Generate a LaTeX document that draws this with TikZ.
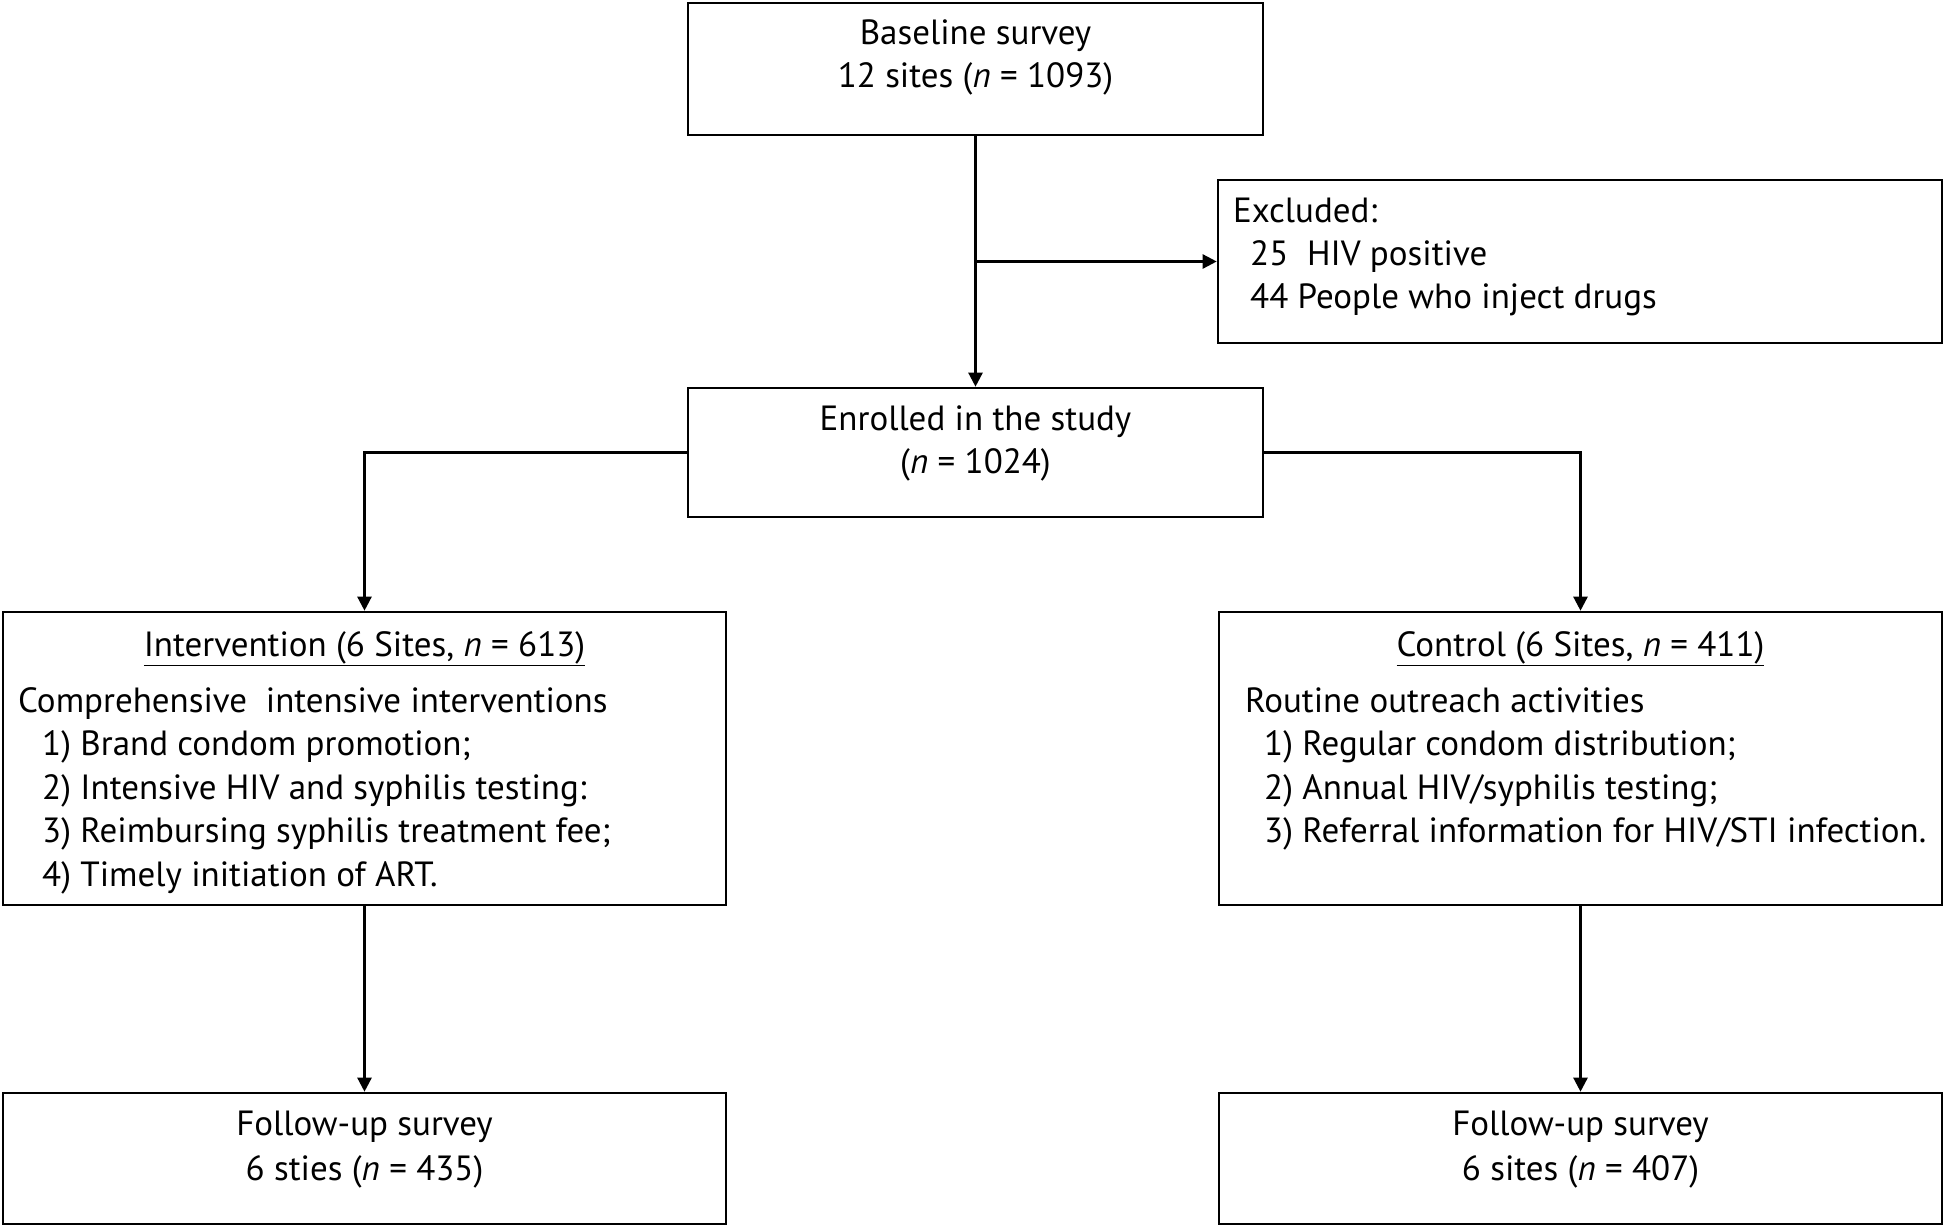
\documentclass[tikz,border=0pt]{standalone}
\usepackage{fontspec}
\setmainfont{PT Sans}
\usetikzlibrary{arrows.meta}
\newcommand\figfont{\fontsize{35}{43}\selectfont}
\begin{document}
\begin{tikzpicture}[x=1pt,y=-1pt,
  box/.style={draw=black, line width=2.6pt, inner sep=0pt, fill=white},
  txt/.style={font=\figfont, inner sep=0pt, anchor=base},
  ltxt/.style={txt, anchor=base west},
  arr/.style={line width=2.4pt, -{Triangle[length=14pt,width=14pt]}}]
\useasboundingbox[fill=white] (0,0) rectangle (1946,1228);
% boxes
\node[box, minimum width=575pt, minimum height=132pt] (base) at (975.5,69) {};
\node[box, minimum width=724pt, minimum height=163pt] (excl) at (1580,261.5) {};
\node[box, minimum width=575pt, minimum height=129pt] (enr) at (975.5,452.5) {};
\node[box, minimum width=723pt, minimum height=293pt] (intv) at (364.5,758.5) {};
\node[box, minimum width=723pt, minimum height=293pt] (ctrl) at (1580.5,758.5) {};
\node[box, minimum width=723pt, minimum height=131pt] (fua) at (364.5,1158.5) {};
\node[box, minimum width=723pt, minimum height=131pt] (fub) at (1580.5,1158.5) {};
% texts
\node[txt] (t1) at (975.5,45) {Baseline survey};
\node[txt] (t2) at (975.5,88) {12 sites (\textit{n} = 1093)};
\node[ltxt] (e1) at (1233,222) {Excluded:};
\node[ltxt] (e2) at (1250,265) {25\ \ HIV positive};
\node[ltxt] (e3) at (1250,308) {44 People who inject drugs};
\node[txt] (n1) at (975.5,430) {Enrolled in the study};
\node[txt] (n2) at (975.5,473) {(\textit{n} = 1024)};
\node[txt] (i0) at (364.5,656) {\underline{Intervention (6 Sites, \textit{n} = 613)}};
\node[ltxt] (i1) at (18,712) {Comprehensive\ \ intensive interventions};
\node[ltxt] (i2) at (42,755.5) {1) Brand condom promotion;};
\node[ltxt] (i3) at (42,799) {2) Intensive HIV and syphilis testing:};
\node[ltxt] (i4) at (42,842.5) {3) Reimbursing syphilis treatment fee;};
\node[ltxt] (i5) at (42,886) {4) Timely initiation of ART.};
\node[txt] (c0) at (1580.5,656) {\underline{Control (6 Sites, \textit{n} = 411)}};
\node[ltxt] (c1) at (1245,712) {Routine outreach activities};
\node[ltxt] (c2) at (1264,755.5) {1) Regular condom distribution;};
\node[ltxt] (c3) at (1264,799) {2) Annual HIV/syphilis testing;};
\node[ltxt] (c4) at (1264,842.5) {3) Referral information for HIV/STI infection.};
\node[txt] (f1) at (364.5,1135) {Follow-up survey};
\node[txt] (f2) at (364.5,1180) {6 sties (\textit{n} = 435)};
\node[txt] (g1) at (1580.5,1135) {Follow-up survey};
\node[txt] (g2) at (1580.5,1180) {6 sites (\textit{n} = 407)};
% connectors
\coordinate (j1) at (975.5,261.5);
\draw[arr] (base.south) -- (enr.north);
\draw[arr] (j1) -- (excl.west);
\draw[arr] (enr.west) -| (intv.north);
\draw[arr] (enr.east) -| (ctrl.north);
\draw[arr] (intv.south) -- (fua.north);
\draw[arr] (ctrl.south) -- (fub.north);
\end{tikzpicture}
\end{document}
